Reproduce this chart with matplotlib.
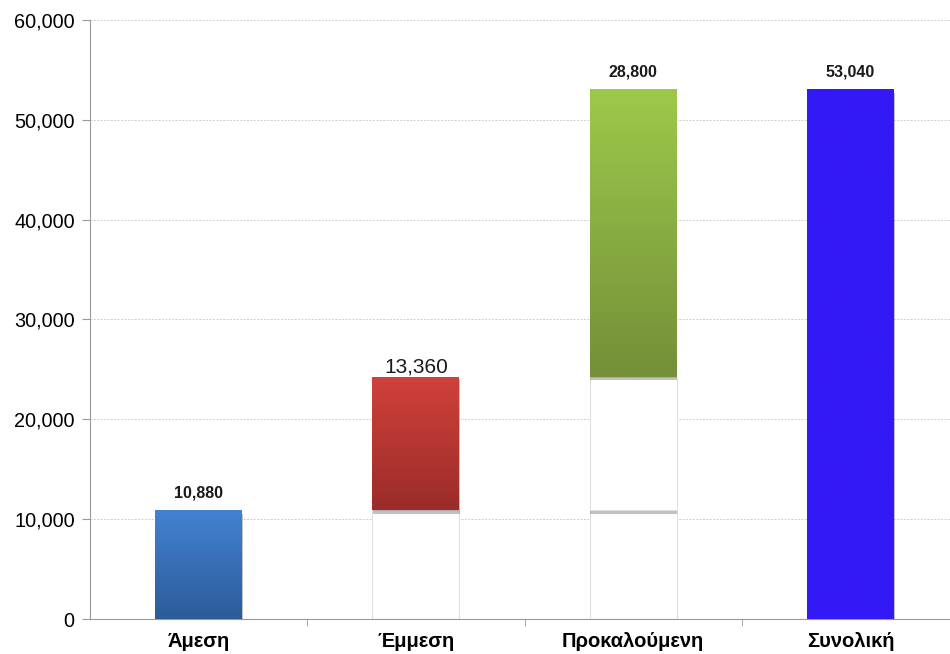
import numpy as np
import matplotlib
matplotlib.use('Agg')
import matplotlib.pyplot as plt
from matplotlib.colors import LinearSegmentedColormap
from matplotlib.ticker import FuncFormatter, FixedLocator
import matplotlib.patheffects as pe

plt.rcParams['font.family'] = ['Liberation Sans', 'DejaVu Sans']

categories = ['Άμεση', 'Έμμεση', 'Προκαλούμενη', 'Συνολική']
values = [10880, 13360, 28800, 53040]
# invisible base segments under each bar (waterfall)
base_low = [0, 10880, 10880, 0]
base_high = [0, 0, 13360, 0]
top_colors = ['#4282d3', '#d1413b', '#9dc94b', '#3319f5']
bottom_colors = ['#2c5c98', '#9a2c29', '#748f38', '#3319f5']
label_bold = [True, False, True, True]

fig = plt.figure(figsize=(9.5, 6.54), dpi=100)
ax = fig.add_axes([0.0947, 0.0535, 0.915, 0.916])

x = np.arange(len(categories))
w = 0.40
shadow = [pe.withSimplePatchShadow(offset=(0.5, -2.5), shadow_rgbFace='#666666', alpha=0.4)]

# white base bars
ax.bar(x, base_low, w, color='white', edgecolor='#e0e0e0', linewidth=0.8, path_effects=shadow, zorder=2)
ax.bar(x, base_high, w, bottom=base_low, color='white', edgecolor='#e0e0e0', linewidth=0.8,
       path_effects=shadow, zorder=2)

bottoms = np.array(base_low) + np.array(base_high)
bars = ax.bar(x, values, w, bottom=bottoms, color='none', edgecolor='none', zorder=3)

grad = np.linspace(0, 1, 256).reshape(-1, 1)
for i, b in enumerate(bars):
    cmap = LinearSegmentedColormap.from_list('g%d' % i, [bottom_colors[i], top_colors[i]])
    x0, y0 = b.get_x(), b.get_y()
    x1, y1 = x0 + b.get_width(), y0 + b.get_height()
    ax.bar(x[i], values[i], w, bottom=bottoms[i], color='white', path_effects=shadow, zorder=2.5)
    im = ax.imshow(grad, extent=[x0, x1, y0, y1], origin='lower', aspect='auto', cmap=cmap, zorder=3)
    im.set_clip_path(b)
    top = y1
    if label_bold[i]:
        ax.text(x[i], top + 1000, f'{values[i]:,}', ha='center', va='bottom', fontsize=11.5,
                fontweight='bold', color='#1a1a1a', zorder=4)
    else:
        ax.text(x[i], top + 50, f'{values[i]:,}', ha='center', va='bottom', fontsize=15,
                color='#1a1a1a', zorder=4)

ax.set_xlim(-0.5, 3.5)
ax.set_ylim(0, 60000)
ax.set_yticks(np.arange(0, 60001, 10000))
ax.yaxis.set_major_formatter(FuncFormatter(lambda v, p: f'{int(v):,}'))
ax.yaxis.grid(True, linestyle=(0, (2, 1.5)), color='#cfcfcf', linewidth=0.7)
ax.set_axisbelow(True)

ax.set_xticks(x)
ax.set_xticklabels(categories, fontsize=14.5, fontweight='bold')
ax.xaxis.set_minor_locator(FixedLocator([0.5, 1.5, 2.5]))
ax.tick_params(axis='x', which='major', length=0, pad=9)
ax.tick_params(axis='x', which='minor', length=5, color='#999999')
ax.tick_params(axis='y', length=6, color='#999999', labelsize=14.3, pad=5)

for s in ['top', 'right']:
    ax.spines[s].set_visible(False)
for s in ['left', 'bottom']:
    ax.spines[s].set_color('#999999')

fig.savefig('out.png', dpi=100)
